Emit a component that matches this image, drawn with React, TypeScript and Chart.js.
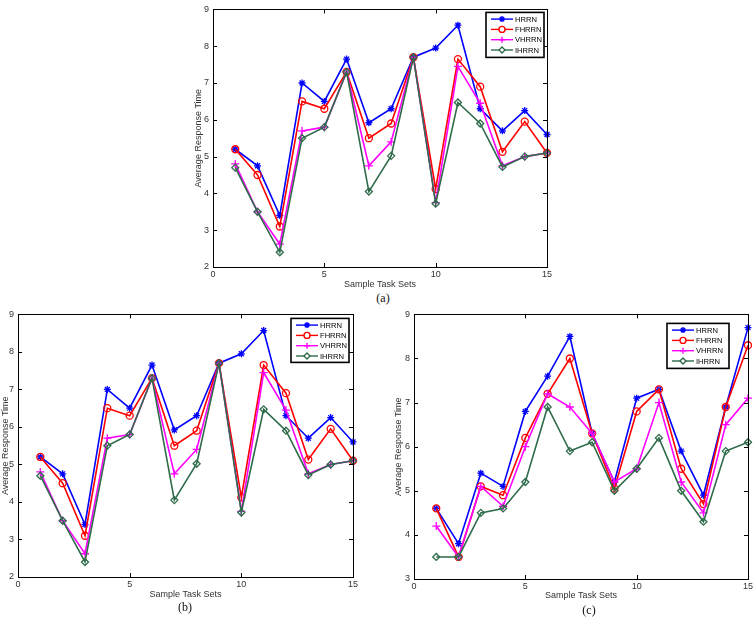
import React, { useEffect, useRef } from 'react';
import { Chart, registerables } from 'chart.js';
import { drawPoint } from 'chart.js/helpers';

Chart.register(...registerables);

const TASKS = [1, 2, 3, 4, 5, 6, 7, 8, 9, 10, 11, 12, 13, 14, 15];
const SERIES_NAMES = ['HRRN', 'FHRRN', 'VHRRN', 'IHRRN'];

// Panels (a) and (b)
const AB_HRRN = [5.2, 4.75, 3.4, 7.0, 6.5, 7.65, 5.92, 6.3, 7.7, 7.95, 8.57, 6.3, 5.7, 6.25, 5.6];
const AB_FHRRN = [5.2, 4.5, 3.1, 6.5, 6.3, 7.3, 5.5, 5.9, 7.7, 4.12, 7.65, 6.9, 5.13, 5.95, 5.1];
const AB_VHRRN = [4.8, 3.5, 2.62, 5.7, 5.8, 7.3, 4.75, 5.4, 7.7, 3.75, 7.45, 6.45, 4.75, 5.0, 5.1];
const AB_IHRRN = [4.7, 3.5, 2.4, 5.5, 5.8, 7.3, 4.05, 5.02, 7.7, 3.72, 6.47, 5.9, 4.72, 5.0, 5.1];

// Panel (c)
const C_HRRN = [4.6, 3.8, 5.4, 5.1, 6.8, 7.6, 8.5, 6.3, 5.2, 7.1, 7.3, 5.9, 4.9, 6.9, 8.7];
const C_FHRRN = [4.6, 3.5, 5.1, 4.9, 6.2, 7.2, 8.0, 6.3, 5.05, 6.8, 7.3, 5.5, 4.7, 6.9, 8.3];
const C_VHRRN = [4.2, 3.5, 5.1, 4.65, 6.0, 7.2, 6.9, 6.3, 5.2, 5.5, 7.0, 5.2, 4.5, 6.5, 7.1];
const C_IHRRN = [3.5, 3.5, 4.5, 4.6, 5.2, 6.9, 5.9, 6.1, 5.0, 5.5, 6.2, 5.0, 4.3, 5.9, 6.1];

const COLORS = ['#0000ff', '#ff0000', '#ff00ff', '#2e6b4a'];
const POINT_STYLES = ['star', 'circle', 'cross', 'rectRot'];
const POINT_RADII = [3.5, 3.5, 4, 3.5];

const FONT = '"Liberation Sans", Arial, sans-serif';
const TEXT_COLOR = '#333';

const framePlugin = {
  id: 'frame',
  afterDatasetsDraw(chart: any) {
    const { ctx, chartArea: ca } = chart;
    const xs = chart.scales.x;
    const ys = chart.scales.y;
    ctx.save();
    ctx.strokeStyle = '#000';
    ctx.lineWidth = 1;
    ctx.strokeRect(Math.round(ca.left) + 0.5, Math.round(ca.top) + 0.5, Math.round(ca.right - ca.left), Math.round(ca.bottom - ca.top));
    const tl = 4;
    ctx.beginPath();
    ys.ticks.forEach((t: any) => {
      const y = Math.round(ys.getPixelForValue(t.value)) + 0.5;
      ctx.moveTo(ca.left, y);
      ctx.lineTo(ca.left + tl, y);
      ctx.moveTo(ca.right, y);
      ctx.lineTo(ca.right - tl, y);
    });
    xs.ticks.forEach((t: any) => {
      const x = Math.round(xs.getPixelForValue(t.value)) + 0.5;
      ctx.moveTo(x, ca.bottom);
      ctx.lineTo(x, ca.bottom - tl);
      ctx.moveTo(x, ca.top);
      ctx.lineTo(x, ca.top + tl);
    });
    ctx.stroke();
    ctx.restore();
  },
  afterDraw(chart: any, _args: any, opts: any) {
    const { ctx, chartArea: ca } = chart;
    const lg = opts.legend;
    if (!lg) return;
    const bx = ca.right - lg.right - lg.w;
    const by = ca.top + lg.top;
    ctx.save();
    ctx.fillStyle = '#fff';
    ctx.fillRect(bx, by, lg.w, lg.h);
    ctx.lineWidth = 1.6;
    ctx.strokeStyle = '#000';
    ctx.strokeRect(bx, by, lg.w, lg.h);
    chart.data.datasets.forEach((ds: any, i: number) => {
      const y = by + 6.7 + i * 10.3;
      ctx.strokeStyle = ds.borderColor;
      ctx.lineWidth = 1.4;
      ctx.beginPath();
      ctx.moveTo(bx + 5, y);
      ctx.lineTo(bx + 27, y);
      ctx.stroke();
      ctx.fillStyle = '#fff';
      ctx.strokeStyle = ds.borderColor;
      drawPoint(ctx, { pointStyle: ds.pointStyle, radius: 3, borderWidth: 1.2, rotation: 0 } as any, bx + 16, y);
      ctx.fillStyle = '#000';
      ctx.font = `7.6px ${FONT}`;
      ctx.textBaseline = 'middle';
      ctx.textAlign = 'left';
      ctx.fillText(ds.label, bx + 29, y + 0.5);
    });
    ctx.restore();
  },
};

type PanelProps = {
  series: number[][];
  yMin: number;
  yMax: number;
  left: number;
  top: number;
  width: number;
  height: number;
  padTop: number;
  padRight: number;
  yWidth: number;
  xHeight: number;
  legend: { right: number; top: number; w: number; h: number };
};

function Panel(p: PanelProps) {
  const ref = useRef<HTMLCanvasElement>(null);
  useEffect(() => {
    const datasets = p.series.map((vals, i) => ({
      label: SERIES_NAMES[i],
      data: TASKS.map((t, j) => ({ x: t, y: vals[j] })),
      borderColor: COLORS[i],
      backgroundColor: COLORS[i],
      pointStyle: POINT_STYLES[i],
      pointRadius: POINT_RADII[i],
      pointBorderWidth: 1.3,
      pointBorderColor: COLORS[i],
      pointBackgroundColor: 'rgba(255,255,255,0)',
      borderWidth: 1.6,
      tension: 0,
      clip: false,
      order: 4 - i,
    }));
    const tickFont = { family: FONT, size: 9 };
    const chart = new Chart(ref.current as HTMLCanvasElement, {
      type: 'line',
      data: { datasets } as any,
      plugins: [framePlugin as any],
      options: {
        responsive: false,
        animation: false,
        devicePixelRatio: 1,
        layout: { padding: { top: p.padTop, right: p.padRight, left: 0, bottom: 0 } },
        plugins: {
          legend: { display: false },
          tooltip: { enabled: false },
          frame: { legend: p.legend },
        } as any,
        scales: {
          x: {
            type: 'linear',
            min: 0,
            max: 15,
            ticks: { stepSize: 5, padding: 2, font: tickFont, color: TEXT_COLOR, maxRotation: 0, autoSkip: false },
            grid: { display: false, drawTicks: false },
            border: { display: false },
            title: { display: true, text: 'Sample Task Sets', font: tickFont, color: TEXT_COLOR, padding: 0 },
            afterFit: (s: any) => {
              s.height = p.xHeight;
            },
          },
          y: {
            type: 'linear',
            min: p.yMin,
            max: p.yMax,
            ticks: { stepSize: 1, padding: 4, font: tickFont, color: TEXT_COLOR },
            grid: { display: false, drawTicks: false },
            border: { display: false },
            title: { display: true, text: 'Average Response Time', font: tickFont, color: TEXT_COLOR, padding: 0 },
            afterFit: (s: any) => {
              s.width = p.yWidth;
            },
          },
        },
      } as any,
    });
    return () => chart.destroy();
  }, []);
  return (
    <canvas
      ref={ref}
      width={p.width}
      height={p.height}
      style={{ position: 'absolute', left: p.left, top: p.top, width: p.width, height: p.height }}
    />
  );
}

function Caption({ text, x, y }: { text: string; x: number; y: number }) {
  return (
    <div
      style={{
        position: 'absolute',
        left: x,
        top: y,
        transform: 'translate(-50%, -50%)',
        fontFamily: '"Liberation Serif", "Times New Roman", serif',
        fontSize: 12,
        color: '#111',
        whiteSpace: 'nowrap',
      }}
    >
      {text}
    </div>
  );
}

export default function App() {
  return (
    <div style={{ position: 'absolute', left: 0, top: 0, width: 755, height: 617, background: '#fff', overflow: 'hidden' }}>
      <Panel
        series={[AB_HRRN, AB_FHRRN, AB_VHRRN, AB_IHRRN]}
        yMin={2}
        yMax={9}
        left={193}
        top={0}
        width={367}
        height={290}
        padTop={4}
        padRight={13}
        yWidth={20}
        xHeight={23}
        legend={{ right: 3, top: 3, w: 58, h: 45 }}
      />
      <Caption text="(a)" x={383} y={298} />
      <Panel
        series={[AB_HRRN, AB_FHRRN, AB_VHRRN, AB_IHRRN]}
        yMin={2}
        yMax={9}
        left={0}
        top={305}
        width={366}
        height={295}
        padTop={9}
        padRight={13}
        yWidth={18}
        xHeight={23}
        legend={{ right: 4, top: 4, w: 58, h: 44 }}
      />
      <Caption text="(b)" x={185} y={607} />
      <Panel
        series={[C_HRRN, C_FHRRN, C_VHRRN, C_IHRRN]}
        yMin={3}
        yMax={9}
        left={393}
        top={305}
        width={362}
        height={296}
        padTop={9}
        padRight={4}
        yWidth={21}
        xHeight={22}
        legend={{ right: 19, top: 9, w: 62, h: 45 }}
      />
      <Caption text="(c)" x={589} y={610} />
    </div>
  );
}
